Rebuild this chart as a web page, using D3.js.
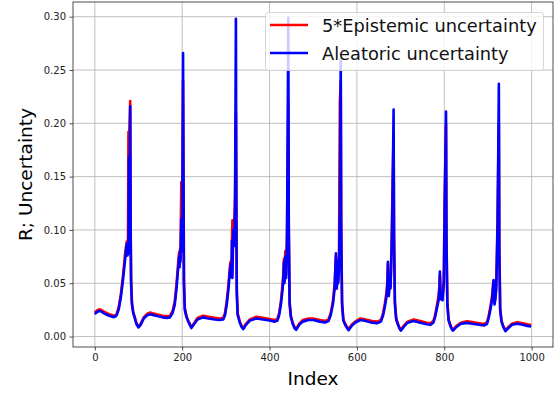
<!DOCTYPE html>
<html>
<head>
<meta charset="utf-8">
<script src="https://cdn.jsdelivr.net/npm/d3@7"></script>
<style>
  body { margin: 0; background: #fff; }
  svg { display: block; font-family: "DejaVu Sans", sans-serif; }
</style>
</head>
<body>
<svg id="chart" width="556" height="394"></svg>
<script>
// sample positions (index)
let idx = [
  0, 5, 10, 15, 20, 30, 40, 46, 50, 55, 60, 65, 70, 73, 75, 76, 77, 78, 79, 81, 82, 83, 85, 88, 91, 95,
  100, 105, 112, 120, 127, 135, 145, 155, 165, 172, 178, 183, 187, 191, 193, 194, 195, 196, 198, 200, 202, 203, 204, 206,
  210, 215, 221, 228, 235, 248, 260, 275, 285, 294, 298, 302, 306, 310, 312, 313, 314, 315, 317, 319, 321, 323, 324, 325, 327,
  332, 336, 340, 346, 355, 370, 385, 400, 412, 418, 422, 426, 430, 432, 433, 434, 436, 438, 440, 443, 444, 446,
  449, 453, 457, 461, 468, 476, 489, 500, 515, 527, 535, 540, 545, 549, 552, 553, 554, 556, 557, 559, 561, 563, 564, 566,
  569, 572, 576, 581, 588, 596, 608, 620, 635, 646, 655, 660, 664, 668, 670, 671, 672, 673, 675, 677, 680, 682, 684, 685, 687,
  690, 694, 698, 701, 708, 716, 730, 745, 760, 768, 775, 779, 783, 787, 789, 790, 791, 792, 794, 796, 799, 801, 804, 805, 807,
  810, 814, 817, 820, 828, 838, 852, 868, 880, 891, 898, 902, 906, 910, 912, 913, 914, 915, 917, 919, 922, 925, 926, 928,
  931, 935, 940, 947, 955, 967, 980, 990, 999
];

let aleatoric = [
  0.021, 0.023, 0.024, 0.0235, 0.022, 0.020, 0.0185, 0.0185, 0.020, 0.026, 0.038, 0.055, 0.075, 0.087, 0.076, 0.088, 0.078, 0.168, 0.12, 0.216, 0.10, 0.05, 0.03, 0.022, 0.018, 0.012,
  0.0085, 0.011, 0.017, 0.020, 0.021, 0.020, 0.019, 0.018, 0.0175, 0.018, 0.022, 0.030, 0.045, 0.065, 0.075, 0.065, 0.080, 0.070, 0.11, 0.08, 0.266, 0.15, 0.05, 0.025,
  0.018, 0.013, 0.008, 0.012, 0.016, 0.018, 0.017, 0.016, 0.0155, 0.016, 0.020, 0.030, 0.045, 0.065, 0.068, 0.056, 0.09, 0.055, 0.10, 0.085, 0.12, 0.298, 0.12, 0.04, 0.02,
  0.013, 0.009, 0.007, 0.011, 0.015, 0.017, 0.016, 0.015, 0.014, 0.015, 0.020, 0.030, 0.045, 0.058, 0.070, 0.05, 0.075, 0.055, 0.09, 0.299, 0.10, 0.03,
  0.018, 0.012, 0.008, 0.0063, 0.011, 0.014, 0.0155, 0.0155, 0.014, 0.0132, 0.0145, 0.020, 0.030, 0.045, 0.078, 0.060, 0.045, 0.070, 0.050, 0.064, 0.12, 0.260, 0.10, 0.03,
  0.015, 0.012, 0.009, 0.006, 0.010, 0.013, 0.0155, 0.0145, 0.013, 0.0125, 0.014, 0.020, 0.028, 0.038, 0.050, 0.070, 0.050, 0.038, 0.050, 0.045, 0.09, 0.14, 0.213, 0.09, 0.03,
  0.016, 0.011, 0.007, 0.0056, 0.0095, 0.013, 0.0145, 0.013, 0.0115, 0.011, 0.013, 0.018, 0.026, 0.034, 0.045, 0.061, 0.045, 0.035, 0.038, 0.034, 0.05, 0.12, 0.211, 0.09, 0.03,
  0.015, 0.010, 0.007, 0.0056, 0.009, 0.012, 0.0128, 0.0118, 0.011, 0.0103, 0.012, 0.018, 0.026, 0.036, 0.048, 0.053, 0.040, 0.030, 0.035, 0.045, 0.10, 0.237, 0.08, 0.025,
  0.014, 0.009, 0.005, 0.008, 0.011, 0.012, 0.011, 0.010, 0.0094
];

let epistemic5 = [
  0.0225, 0.0245, 0.0255, 0.025, 0.0235, 0.0215, 0.020, 0.0195, 0.021, 0.028, 0.041, 0.059, 0.080, 0.089, 0.078, 0.095, 0.192, 0.15, 0.19, 0.221, 0.11, 0.055, 0.032, 0.023, 0.019, 0.013,
  0.0095, 0.012, 0.018, 0.0215, 0.0225, 0.0215, 0.0205, 0.0195, 0.019, 0.0195, 0.024, 0.033, 0.049, 0.070, 0.079, 0.068, 0.082, 0.072, 0.145, 0.10, 0.24, 0.16, 0.055, 0.027,
  0.019, 0.014, 0.009, 0.013, 0.0175, 0.0195, 0.0185, 0.0175, 0.017, 0.0175, 0.022, 0.033, 0.049, 0.069, 0.071, 0.058, 0.092, 0.109, 0.09, 0.10, 0.13, 0.21, 0.13, 0.045, 0.022,
  0.014, 0.010, 0.008, 0.012, 0.016, 0.0185, 0.0175, 0.0165, 0.0155, 0.0165, 0.022, 0.033, 0.050, 0.062, 0.073, 0.052, 0.08, 0.058, 0.10, 0.22, 0.11, 0.033,
  0.019, 0.013, 0.009, 0.0073, 0.012, 0.0155, 0.017, 0.017, 0.0155, 0.0147, 0.016, 0.022, 0.033, 0.049, 0.075, 0.062, 0.047, 0.072, 0.052, 0.068, 0.22, 0.24, 0.11, 0.033,
  0.016, 0.013, 0.010, 0.007, 0.011, 0.014, 0.017, 0.016, 0.0145, 0.014, 0.0155, 0.022, 0.031, 0.042, 0.053, 0.068, 0.052, 0.040, 0.052, 0.047, 0.10, 0.15, 0.19, 0.10, 0.033,
  0.017, 0.012, 0.008, 0.0066, 0.0105, 0.014, 0.016, 0.0145, 0.013, 0.0125, 0.0145, 0.020, 0.029, 0.038, 0.048, 0.058, 0.047, 0.037, 0.040, 0.036, 0.055, 0.13, 0.20, 0.10, 0.033,
  0.016, 0.011, 0.008, 0.0066, 0.010, 0.013, 0.0143, 0.0133, 0.0125, 0.0118, 0.0135, 0.020, 0.029, 0.040, 0.050, 0.052, 0.042, 0.032, 0.037, 0.048, 0.11, 0.20, 0.09, 0.027,
  0.015, 0.010, 0.006, 0.009, 0.012, 0.0135, 0.0125, 0.0115, 0.0108
];

let xTicks = [0, 200, 400, 600, 800, 1000];
let yTicks = [0.00, 0.05, 0.10, 0.15, 0.20, 0.25, 0.30];
let seriesNames = ["5*Epistemic uncertainty", "Aleatoric uncertainty"];
let seriesColors = ["#ff0000", "#0000ff"];

let svg = d3.select("#chart");
let plotLeft = 73, plotRight = 553, plotTop = 2, plotBottom = 347;

let x = d3.scaleLinear().domain([-49.95, 1048.95]).range([plotLeft, plotRight]);
let y = d3.scaleLinear().domain([-0.0098, 0.3138]).range([plotBottom, plotTop]);

// grid
let grid = svg.append("g").attr("stroke", "#b0b0b0").attr("stroke-width", 0.8);
xTicks.forEach(t => {
    grid.append("line").attr("x1", x(t)).attr("x2", x(t)).attr("y1", plotTop).attr("y2", plotBottom);
});
yTicks.forEach(t => {
    grid.append("line").attr("x1", plotLeft).attr("x2", plotRight).attr("y1", y(t)).attr("y2", y(t));
});

// series
let pts = idx.map((d, i) => ({i: d, a: aleatoric[i], e: epistemic5[i]}));
svg.append("clipPath").attr("id", "clip")
    .append("rect").attr("x", plotLeft).attr("y", plotTop)
    .attr("width", plotRight - plotLeft).attr("height", plotBottom - plotTop);

let lines = svg.append("g").attr("clip-path", "url(#clip)");
lines.append("path")
    .datum(pts)
    .attr("d", d3.line().x(d => x(d.i)).y(d => y(d.e)))
    .attr("fill", "none")
    .attr("stroke", seriesColors[0])
    .attr("stroke-width", 2.6)
    .attr("stroke-linejoin", "round");
lines.append("path")
    .datum(pts)
    .attr("d", d3.line().x(d => x(d.i)).y(d => y(d.a)))
    .attr("fill", "none")
    .attr("stroke", seriesColors[1])
    .attr("stroke-width", 2.6)
    .attr("stroke-linejoin", "round");

// axes
let xAxis = svg.append("g")
    .attr("transform", `translate(0,${plotBottom})`)
    .call(d3.axisBottom(x).tickValues(xTicks).tickSize(3.5).tickPadding(3.5).tickFormat(d3.format("d")));
let yAxis = svg.append("g")
    .attr("transform", `translate(${plotLeft},0)`)
    .call(d3.axisLeft(y).tickValues(yTicks).tickSize(3.5).tickPadding(3.5).tickFormat(d3.format(".2f")));
[xAxis, yAxis].forEach(ax => {
    ax.select(".domain").remove();
    ax.selectAll("text").attr("font-size", 10).attr("fill", "#222").attr("font-family", "DejaVu Sans");
    ax.selectAll("line").attr("stroke", "#222").attr("stroke-width", 0.8);
});

svg.append("rect")
    .attr("x", plotLeft).attr("y", plotTop)
    .attr("width", plotRight - plotLeft).attr("height", plotBottom - plotTop)
    .attr("fill", "none").attr("stroke", "#222").attr("stroke-width", 0.8);

// labels
svg.append("text")
    .attr("x", (plotLeft + plotRight) / 2).attr("y", 385)
    .attr("text-anchor", "middle")
    .attr("font-size", 18.5)
    .text("Index");
svg.append("text")
    .attr("transform", `translate(32,${(plotTop + plotBottom) / 2}) rotate(-90)`)
    .attr("text-anchor", "middle")
    .attr("font-size", 18.5)
    .text("R; Uncertainty");

// legend
let legend = svg.append("g");
legend.append("rect")
    .attr("x", 265.5).attr("y", 12.5).attr("width", 278).attr("height", 58)
    .attr("rx", 3)
    .attr("fill", "white").attr("fill-opacity", 0.8)
    .attr("stroke", "#cccccc").attr("stroke-width", 0.8);
seriesNames.forEach((name, i) => {
    let ly = 25 + i * 28;
    legend.append("line")
        .attr("x1", 270).attr("x2", 308).attr("y1", ly).attr("y2", ly)
        .attr("stroke", seriesColors[i]).attr("stroke-width", 2.6);
    legend.append("text")
        .attr("x", 322).attr("y", ly + 7)
        .attr("font-size", 17.8)
        .attr("fill", "#111")
        .text(name);
});
</script>
</body>
</html>
